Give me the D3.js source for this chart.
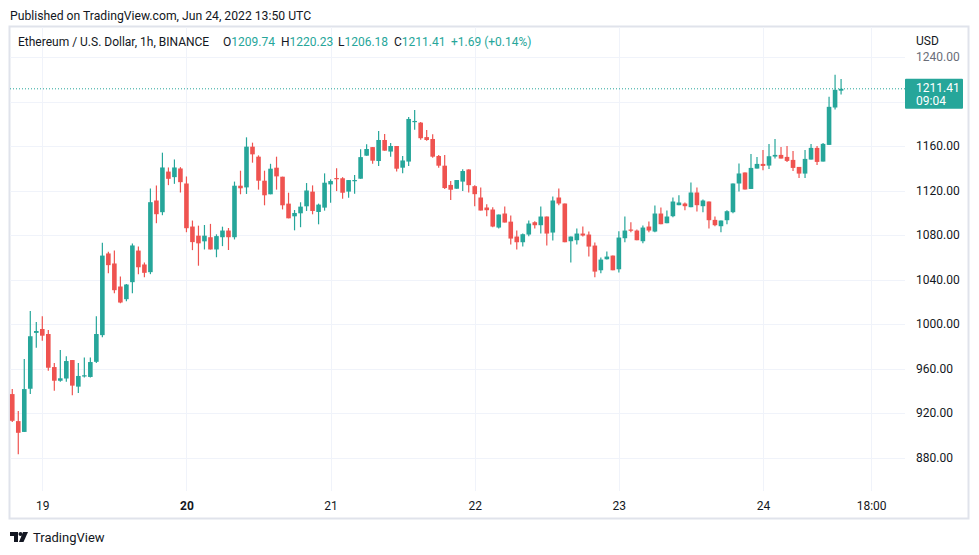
<!DOCTYPE html>
<html>
<head>
<meta charset="utf-8">
<script src="https://cdn.jsdelivr.net/npm/d3@7"></script>
<style>
  body { margin: 0; background: #fff; }
  svg { display: block; font-family: Roboto, "Noto Sans", sans-serif; }
</style>
</head>
<body>
<svg id="chart" width="979" height="555"></svg>
<script>
/* ETH/USD 1h candles, first one is Jun 18 19:00 UTC */
var startTime = Date.UTC(2022, 5, 18, 19);

var opens = [937, 912.7, 903, 941.8, 992, 995.5, 991, 961.3, 949, 951, 967.6, 943.7, 953.3, 952.4, 966,
  990, 1063.4, 1054.4, 1033.7, 1022.3, 1037.6, 1066, 1053.5, 1046.6, 1111, 1100.5, 1137, 1132, 1139.8,
  1126.3, 1087.6, 1079.4, 1074.3, 1078, 1067, 1078, 1084, 1078, 1124.3, 1122.8, 1159.4, 1150.4, 1128.8,
  1116.6, 1140.5, 1132.4, 1108.2, 1096.8, 1099.5, 1105.8, 1119, 1100.7, 1104.6,
  1125.5, 1131.2, 1131, 1119, 1128.8, 1130.6, 1151.3, 1159, 1146.5, 1165.4, 1155, 1160, 1140.5, 1146,
  1182, 1181, 1168, 1166.3, 1151, 1142.3, 1125, 1121.6, 1128, 1138.9,
  1123.9, 1113.7, 1104.7, 1102.9, 1086.7, 1099.3, 1092, 1078.6, 1073.5, 1080.4, 1091.5, 1088.8, 1096.6,
  1082.2, 1113.7, 1108.3, 1074.4, 1075.3, 1081.3, 1080.4, 1070.5, 1048.3, 1058.2, 1061.5,
  1049.2, 1077.1, 1084.9, 1084, 1074.4, 1087.6, 1083.1, 1099.3, 1090.6, 1096.9, 1106.8, 1108.3, 1105,
  1118.2, 1105.9, 1110.1, 1093.6, 1087.9, 1093.3, 1100.5, 1126.3, 1136.2,
  1121.4, 1139.7, 1143.9, 1142.4, 1150.5, 1152, 1150.2, 1147.5, 1141.2, 1135.2, 1147.8, 1158.3, 1146,
  1161, 1194.6, 1209.74];

var highs = [941.5, 921.7, 968.5, 1011.7, 1001.8, 1007, 994.6, 965, 976.6, 971, 967.6, 965, 970, 970, 1007,
  1073, 1065, 1066, 1042.7, 1036, 1072.4, 1069.6, 1055.3, 1121.8, 1124.5, 1154, 1140.7, 1147.9, 1141,
  1132.6, 1093, 1088.4, 1089, 1090, 1080.6, 1087.5, 1086.3, 1128, 1137.8, 1167.8, 1163, 1151.6, 1137.8,
  1144, 1150.4, 1132.4, 1118, 1102.5, 1109.4, 1126.7, 1124.6, 1108.2, 1135.4,
  1130, 1140, 1132, 1129.4, 1134, 1157, 1161.5, 1159, 1173.5, 1170.8, 1162.7, 1160, 1151, 1186,
  1192.4, 1181.6, 1174.4, 1170.5, 1152, 1152, 1128.5, 1129.4, 1139, 1139,
  1124.8, 1122.7, 1107.7, 1105, 1098.4, 1105.6, 1097.5, 1084, 1081.3, 1093, 1092.4, 1105.6, 1096.6,
  1114.6, 1121.8, 1108.3, 1078.6, 1085.8, 1087.6, 1083.1, 1073.2, 1059.7, 1065.1, 1061.5,
  1083.4, 1096.6, 1091.5, 1084.9, 1088.5, 1092.1, 1106.5, 1104.7, 1102, 1113.7, 1115.8, 1109.2, 1127.2,
  1122.7, 1111.9, 1110.1, 1096.6, 1093, 1102.3, 1126.3, 1144.3, 1136.2,
  1152.9, 1150.2, 1156.5, 1161.9, 1166.4, 1159.2, 1160.1, 1155.6, 1141.2, 1156.5, 1161.9, 1160.1, 1162.8,
  1204.2, 1224, 1220.23];

var lows = [911.8, 883, 903, 937, 978.7, 985, 958, 940, 948, 948, 936, 938, 951.8, 952, 965,
  988, 1045.7, 1027.7, 1018.7, 1020.5, 1027.7, 1044.8, 1042, 1044.8, 1090.6, 1097.8, 1124.8, 1126, 1118.2,
  1082.5, 1066.4, 1052.4, 1067, 1067, 1060, 1070, 1066.5, 1076, 1116.6, 1116.9, 1145, 1120.8, 1106.7,
  1116.6, 1120.8, 1103, 1095, 1084.2, 1087, 1101.6, 1098.6, 1089.6, 1101.9,
  1109, 1119.5, 1112.6, 1113.5, 1117, 1130.6, 1151.3, 1144, 1142, 1155.8, 1150.4, 1137, 1135.4, 1142,
  1174.7, 1165.7, 1164.8, 1149.5, 1140.5, 1121.3, 1111.4, 1121.6, 1119.5, 1118.2,
  1105.9, 1102, 1096.9, 1087, 1085.8, 1091.2, 1071.4, 1066.9, 1069.6, 1078.9, 1085.8, 1081.3, 1070.5,
  1075, 1106.8, 1073.5, 1055.2, 1071.4, 1078.6, 1060.6, 1042, 1045.6, 1057.9, 1048.3,
  1046.2, 1073.5, 1082.5, 1075.3, 1072.6, 1082.5, 1082.5, 1089.7, 1090.6, 1096, 1106.8, 1102.3, 1105,
  1101.1, 1100.5, 1085.8, 1087.9, 1082.5, 1089.7, 1099.6, 1119.1, 1120.9,
  1121.4, 1139.7, 1138.2, 1139.4, 1148.7, 1148.7, 1145.7, 1137.6, 1131.3, 1131.3, 1147.8, 1143, 1146,
  1161, 1192.8, 1206.18];

var closes = [913, 902.2, 941.5, 989, 993.7, 989.5, 960.7, 949, 951.2, 966.7, 944.6, 953.3, 953.9, 965.8, 991,
  1061.5, 1052.9, 1030.4, 1019.3, 1035.5, 1070.6, 1051, 1046, 1109.5, 1098.7, 1140.7, 1130.5, 1140.7, 1127.5,
  1086.1, 1073.6, 1072.5, 1079.4, 1067, 1079, 1084, 1078, 1124.3, 1122, 1159.4, 1152.5, 1128.8, 1115.7,
  1139.6, 1132.7, 1106.7, 1095, 1099.8, 1105.5, 1120, 1101.6, 1107.3, 1127,
  1128.5, 1130.6, 1118, 1129.4, 1129.4, 1150, 1157.3, 1146.8, 1165.4, 1155.8, 1160, 1139.6, 1147, 1184.3,
  1182.5, 1167, 1165.4, 1150.4, 1142.3, 1122.2, 1120.7, 1129.4, 1137.5, 1124.8,
  1116.7, 1102, 1102.3, 1087.6, 1098.4, 1091.2, 1076.8, 1073.5, 1080.7, 1090.3, 1088.8, 1096.6, 1081.3,
  1111, 1108.3, 1073.5, 1078.6, 1081.3, 1079.5, 1069.6, 1047.1, 1057.9, 1060.6, 1048.3,
  1077.7, 1084, 1084, 1075.3, 1086.7, 1084, 1099.3, 1089.7, 1096.6, 1110.1, 1109.2, 1105.9, 1118.2,
  1106.8, 1111, 1093.3, 1088.8, 1093, 1101.4, 1126.3, 1135.3, 1120.9,
  1140.3, 1143.9, 1142.1, 1150.8, 1152, 1148.7, 1146.6, 1140.3, 1135.2, 1148.4, 1158.3, 1145.7, 1161.9,
  1195.2, 1210.5, 1211.41];

var priceTicks = [880, 920, 960, 1000, 1040, 1080, 1120, 1160, 1200, 1240];
var timeTicks = [Date.UTC(2022, 5, 19), Date.UTC(2022, 5, 20), Date.UTC(2022, 5, 21), Date.UTC(2022, 5, 22),
  Date.UTC(2022, 5, 23), Date.UTC(2022, 5, 24), Date.UTC(2022, 5, 24, 18)];
var timeLabels = ["19", "20", "21", "22", "23", "24", "18:00"];
var lastPrice = 1211.41, countdown = "09:04";

var up = "#26a69a", down = "#ef5350", ink = "#131722", grid = "#f0f3fa";

var svg = d3.select("#chart");

var x = d3.scaleUtc()
    .domain([Date.UTC(2022, 5, 19), Date.UTC(2022, 5, 24)])
    .range([42.3, 763]);
var y = d3.scaleLinear()
    .domain([880, 1240])
    .range([457.5, 57]);

var plotLeft = 10, plotRight = 905, plotTop = 27, plotBottom = 491;

/* frame around chart + axes */
svg.append("rect")
    .attr("x", 9.5).attr("y", 26.5)
    .attr("width", 959).attr("height", 492)
    .attr("fill", "none").attr("stroke", "#e0e3eb").attr("stroke-width", 2);

/* grid */
svg.append("g").selectAll("line")
    .data(priceTicks)
    .enter().append("line")
    .attr("x1", plotLeft).attr("x2", plotRight)
    .attr("y1", function(d) { return Math.round(y(d)) + 0.5; })
    .attr("y2", function(d) { return Math.round(y(d)) + 0.5; })
    .attr("stroke", grid);

svg.append("g").selectAll("line")
    .data(timeTicks)
    .enter().append("line")
    .attr("x1", function(d) { return Math.round(x(d)) + 0.5; })
    .attr("x2", function(d) { return Math.round(x(d)) + 0.5; })
    .attr("y1", plotTop).attr("y2", plotBottom)
    .attr("stroke", grid);

/* candles */
var candles = opens.map(function(o, i) {
    return { t: startTime + i * 3600e3, o: o, h: highs[i], l: lows[i], c: closes[i] };
});

var bw = 4.6;
var cg = svg.append("g").selectAll("g")
    .data(candles)
    .enter().append("g")
    .attr("fill", function(d) { return d.c >= d.o ? up : down; })
    .attr("stroke", function(d) { return d.c >= d.o ? up : down; });

cg.append("line")
    .attr("x1", function(d) { return x(d.t); })
    .attr("x2", function(d) { return x(d.t); })
    .attr("y1", function(d) { return y(d.h); })
    .attr("y2", function(d) { return y(d.l); })
    .attr("stroke-width", 1.2);

cg.append("rect")
    .attr("stroke", "none")
    .attr("x", function(d) { return x(d.t) - bw / 2; })
    .attr("width", bw)
    .attr("y", function(d) { return y(Math.max(d.o, d.c)); })
    .attr("height", function(d) { return Math.max(1.2, Math.abs(y(d.o) - y(d.c))); });

/* last price line */
svg.append("line")
    .attr("x1", plotLeft).attr("x2", plotRight)
    .attr("y1", y(lastPrice)).attr("y2", y(lastPrice))
    .attr("stroke", up).attr("stroke-dasharray", "1,2");

/* price axis - labels under the last price box are hidden, like on TV */
var boxTop = y(lastPrice) - 10, boxBottom = boxTop + 30;
var yAxis = d3.axisRight(y)
    .tickValues(priceTicks.filter(function(d) {
        return y(d) < boxTop - 6 || y(d) > boxBottom + 6;
    }))
    .tickFormat(d3.format(".2f"))
    .tickSize(0)
    .tickPadding(0);
var ya = svg.append("g")
    .attr("transform", "translate(916,0)")
    .call(yAxis);
ya.select(".domain").remove();
ya.selectAll("text")
    .attr("font-family", "Roboto, sans-serif")
    .attr("font-size", 12)
    .attr("fill", function(d) { return d == 1240 ? "#6a6d78" : ink; });

svg.append("text")
    .attr("x", 916).attr("y", 45)
    .attr("font-size", 12).attr("fill", ink)
    .text("USD");

svg.append("rect")
    .attr("x", 905).attr("y", boxTop)
    .attr("width", 58).attr("height", 30)
    .attr("rx", 1)
    .attr("fill", up);
svg.append("text")
    .attr("x", 916).attr("y", y(lastPrice) + 3.5)
    .attr("font-size", 12).attr("fill", "#fff")
    .text(d3.format(".2f")(lastPrice));
svg.append("text")
    .attr("x", 916).attr("y", y(lastPrice) + 16.5)
    .attr("font-size", 12).attr("fill", "#fff")
    .text(countdown);

/* time axis */
var xAxis = d3.axisBottom(x)
    .tickValues(timeTicks)
    .tickFormat(function(d, i) { return timeLabels[i]; })
    .tickSize(0)
    .tickPadding(0);
var xa = svg.append("g")
    .attr("transform", "translate(0,501)")
    .call(xAxis);
xa.select(".domain").remove();
xa.selectAll("text")
    .attr("font-family", "Roboto, sans-serif")
    .attr("font-size", 12)
    .attr("fill", ink)
    .attr("font-weight", function(d, i) { return timeLabels[i] == "20" ? "bold" : null; });

/* headers */
svg.append("text")
    .attr("x", 10).attr("y", 20)
    .attr("font-size", 12.2).attr("fill", ink)
    .text("Published on TradingView.com, Jun 24, 2022 13:50 UTC");

svg.append("text")
    .attr("x", 18).attr("y", 46)
    .attr("font-size", 12).attr("fill", ink)
    .text("Ethereum / U.S. Dollar, 1h, BINANCE");

var fmt = d3.format(".2f");
var last = candles[candles.length - 1];
var legend = [
    { k: "O", v: fmt(last.o), x: 223 },
    { k: "H", v: fmt(last.h), x: 281 },
    { k: "L", v: fmt(last.l), x: 338 },
    { k: "C", v: fmt(last.c), x: 394 },
    { k: "", v: "+1.69 (+0.14%)", x: 451 }
];
var lt = svg.append("g").selectAll("text")
    .data(legend)
    .enter().append("text")
    .attr("x", function(d) { return d.x; })
    .attr("y", 46)
    .attr("font-size", 12);
lt.append("tspan").attr("fill", ink).text(function(d) { return d.k; });
lt.append("tspan").attr("fill", up).text(function(d) { return d.v; });

/* footer logo */
var logo = svg.append("g").attr("transform", "translate(10,532)").attr("fill", ink);
logo.append("path").attr("d", "M0,0H8V10H4V4H0Z");
logo.append("circle").attr("cx", 10.5).attr("cy", 2).attr("r", 2);
logo.append("path").attr("d", "M13,0H18L13.5,10H9Z");
svg.append("text")
    .attr("x", 33).attr("y", 542)
    .attr("font-size", 13).attr("fill", ink)
    .text("TradingView");
</script>
</body>
</html>
